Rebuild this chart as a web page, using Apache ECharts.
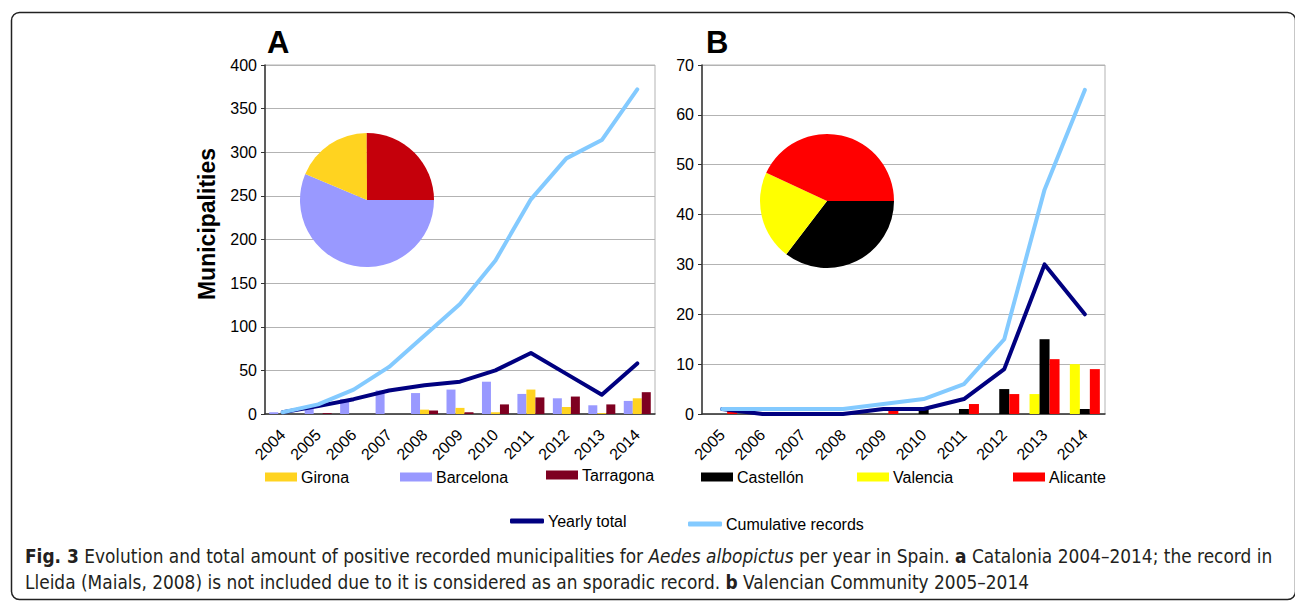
<!DOCTYPE html>
<html>
<head>
<meta charset="utf-8">
<script src="https://cdn.jsdelivr.net/npm/echarts@6/dist/echarts.min.js"></script>
<style>
    html, body { margin: 0; padding: 0; background: #fff; }
    #chart { width: 1295px; height: 607px; }
</style>
</head>
<body>
<div id="chart"></div>
<script>
    // Panel A - Catalonia
    var yearsA = ['2004', '2005', '2006', '2007', '2008', '2009', '2010', '2011', '2012', '2013', '2014'];
    var barcelonaA = [2, 8, 17, 27, 24, 28, 37, 23, 18, 10, 15];
    var gironaA = [0, 0, 0, 0, 5, 7, 2, 28, 8, 1, 18];
    var tarragonaA = [0, 1, 0, 0, 4, 2, 11, 19, 20, 11, 25];
    var yearlyA = [2, 9, 17, 27, 33, 37, 50, 70, 46, 22, 58];
    var cumulativeA = [2, 11, 28, 54, 90, 126, 176, 246, 293, 314, 372];
    var pieNamesA = ['Barcelona', 'Girona', 'Tarragona'];
    var pieTotalsA = [209, 69, 93];

    // Panel B - Valencian Community
    var yearsB = ['2005', '2006', '2007', '2008', '2009', '2010', '2011', '2012', '2013', '2014'];
    var valenciaB = [0, 0, 0, 0, 0, 0, 0, 0, 4, 10];
    var castellonB = [0, 0, 0, 0, 0, 1, 1, 5, 15, 1];
    var alicanteB = [1, 0, 0, 0, 1, 0, 2, 4, 11, 9];
    var yearlyB = [1, 0, 0, 0, 1, 1, 3, 9, 30, 20];
    var cumulativeB = [1, 1, 1, 1, 2, 3, 6, 15, 45, 65];
    var pieNamesB = ['Castellón', 'Valencia', 'Alicante'];
    var pieTotalsB = [23, 14, 28];

    var FONT = 'Liberation Sans, Arial, sans-serif';
    var CAPFONT = 'DejaVu Sans Condensed, DejaVu Sans, sans-serif';

    var myChart = echarts.init(document.getElementById('chart'), null, {renderer: 'svg'});

    function xAxisOf(idx, data) {
        return {
            type: 'category',
            gridIndex: idx,
            data: data,
            axisLine: {lineStyle: {color: '#333', width: 1.5}},
            axisTick: {show: false},
            axisLabel: {rotate: 45, fontSize: 16, color: '#000', fontFamily: FONT, margin: 18, interval: 0}
        };
    }

    function yAxisOf(idx, max, interval) {
        return {
            type: 'value',
            gridIndex: idx,
            min: 0,
            max: max,
            interval: interval,
            axisLine: {show: true, lineStyle: {color: '#333', width: 1.5}},
            axisTick: {show: true, length: 4, lineStyle: {color: '#333'}},
            axisLabel: {fontSize: 16, color: '#000', fontFamily: FONT, margin: 8},
            splitLine: {lineStyle: {color: '#b3b3b3', width: 1}}
        };
    }

    function bar(name, data, color, idx, width) {
        return {
            name: name, type: 'bar', xAxisIndex: idx, yAxisIndex: idx,
            data: data, barWidth: width, barGap: '0%',
            itemStyle: {color: color}
        };
    }

    function line(name, data, color, idx) {
        return {
            name: name, type: 'line', xAxisIndex: idx, yAxisIndex: idx,
            data: data, symbol: 'none', z: 5,
            lineStyle: {color: color, width: 4, cap: 'round', join: 'round'},
            itemStyle: {color: color}
        };
    }

    function legendItem(name, left, top, color, w, h, icon) {
        return {
            left: left, top: top, padding: 0, itemGap: 0,
            itemWidth: w, itemHeight: h, icon: icon || 'rect',
            selectedMode: false,
            data: [{name: name, itemStyle: {color: color}}],
            textStyle: {fontSize: 16, color: '#000', fontFamily: FONT, padding: [0, 0, 0, -1]}
        };
    }

    var option = {
        animation: false,
        backgroundColor: '#fff',
        title: [
            {text: 'A', left: 262, top: 22, textStyle: {fontSize: 31, fontWeight: 'bold', color: '#000', fontFamily: FONT}},
            {text: 'B', left: 701, top: 22, textStyle: {fontSize: 31, fontWeight: 'bold', color: '#000', fontFamily: FONT}}
        ],
        grid: [
            {left: 265, top: 65, width: 390, height: 349, show: true, borderColor: '#b3b3b3', borderWidth: 1},
            {left: 702, top: 65, width: 403, height: 349, show: true, borderColor: '#b3b3b3', borderWidth: 1}
        ],
        xAxis: [xAxisOf(0, yearsA), xAxisOf(1, yearsB)],
        yAxis: [yAxisOf(0, 400, 50), yAxisOf(1, 70, 10)],
        legend: [
            legendItem('Girona', 265, 469, '#FFD320', 32, 9),
            legendItem('Barcelona', 400, 469, '#9999FF', 32, 9),
            legendItem('Tarragona', 546, 467, '#7E0021', 32, 9),
            legendItem('Castellón', 701, 469, '#000000', 32, 9),
            legendItem('Valencia', 857, 469, '#FFFF00', 32, 9),
            legendItem('Alicante', 1013, 469, '#FF0000', 32, 9),
            legendItem('Yearly total', 510, 513, '#000080', 34, 5, 'roundRect'),
            legendItem('Cumulative records', 688, 516, '#83CAFF', 34, 5, 'roundRect')
        ],
        series: [
            bar('Barcelona', barcelonaA, '#9999FF', 0, 9),
            bar('Girona', gironaA, '#FFD320', 0, 9),
            bar('Tarragona', tarragonaA, '#7E0021', 0, 9),
            line('Yearly total', yearlyA, '#000080', 0),
            line('Cumulative records', cumulativeA, '#83CAFF', 0),
            bar('Valencia', valenciaB, '#FFFF00', 1, 10),
            bar('Castellón', castellonB, '#000000', 1, 10),
            bar('Alicante', alicanteB, '#FF0000', 1, 10),
            line('Yearly total', yearlyB, '#000080', 1),
            line('Cumulative records', cumulativeB, '#83CAFF', 1),
            {
                type: 'pie', center: [367, 200], radius: 67, startAngle: 0, clockwise: true,
                label: {show: false}, labelLine: {show: false}, silent: true,
                color: ['#9999FF', '#FFD320', '#C5000B'],
                data: pieNamesA.map(function (n, i) { return {name: n + ' ', value: pieTotalsA[i]}; })
            },
            {
                type: 'pie', center: [827, 201], radius: 67, startAngle: 0, clockwise: true,
                label: {show: false}, labelLine: {show: false}, silent: true,
                color: ['#000000', '#FFFF00', '#FF0000'],
                data: pieNamesB.map(function (n, i) { return {name: n + ' ', value: pieTotalsB[i]}; })
            }
        ],
        graphic: [
            {
                type: 'rect', left: 9, top: 10, silent: true,
                shape: {width: 1284, height: 587, r: 8},
                style: {fill: 'none', stroke: '#222', lineWidth: 1.5}
            },
            {
                // y axis title, sits a bit above the axis middle
                type: 'text', x: 207, y: 224, rotation: Math.PI / 2, silent: true,
                style: {
                    text: 'Municipalities', align: 'center', verticalAlign: 'middle',
                    fontFamily: FONT, fontSize: 23, fontWeight: 'bold', fill: '#000'
                }
            },
            {
                type: 'text', left: 25, top: 543, silent: true,
                style: {
                    text: '{b|Fig. 3} Evolution and total amount of positive recorded municipalities for {i|Aedes albopictus} per year in Spain. {b|a} Catalonia 2004–2014; the record in\n'
                        + 'Lleida (Maials, 2008) is not included due to it is considered as an sporadic record. {b|b} Valencian Community 2005–2014',
                    fontFamily: CAPFONT, fontSize: 18.9, lineHeight: 26, fill: '#231f20',
                    rich: {
                        b: {fontFamily: CAPFONT, fontSize: 18.9, lineHeight: 26, fontWeight: 'bold', fill: '#231f20'},
                        i: {fontFamily: CAPFONT, fontSize: 18.9, lineHeight: 26, fontStyle: 'italic', fill: '#231f20'}
                    }
                }
            }
        ]
    };

    myChart.setOption(option);
</script>
</body>
</html>
